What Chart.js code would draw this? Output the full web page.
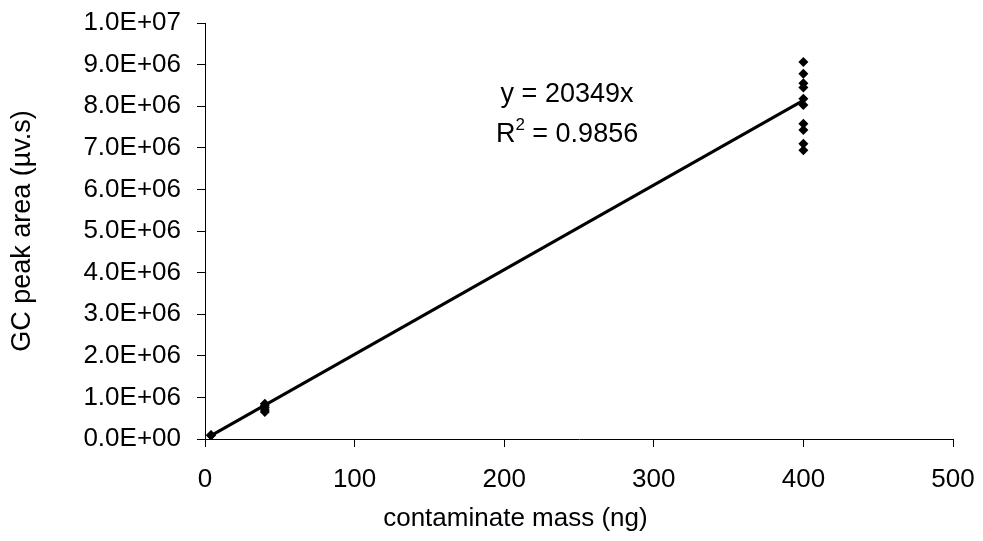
<!DOCTYPE html>
<html><head><meta charset="utf-8">
<script src="https://cdn.jsdelivr.net/npm/chart.js@4/dist/chart.umd.min.js"></script>
<style>html,body{margin:0;padding:0;background:#fff;}</style>
</head><body>
<canvas id="c" width="983" height="541"></canvas>
<script>
// ---- data ----
const sampleMass = [4, 4, 40, 40, 40, 40, 40, 400, 400, 400, 400, 400, 400, 400, 400, 400, 400];
const peakArea   = [95000, 85000, 850000, 800000, 750000, 700000, 650000,
                    9060000, 8780000, 8550000, 8450000, 8180000, 8030000, 7580000, 7430000, 7100000, 6940000];
const trendMass  = [4, 400];
const trendArea  = [81396, 8139600];
const eqText     = 'y = 20349x';
const r2Text     = '0.9856';
const eqAnchor   = [242, 8270000];
const r2Anchor   = [242, 7310000];
const xTitle     = 'contaminate mass (ng)';
const yTitle     = 'GC peak area (\u00b5v.s)';

const FONT = '"Liberation Sans", Arial, Helvetica, sans-serif';

function fmtE(v) {
  if (Math.abs(v) < 1e-9) return '0.0E+00';
  const e = Math.floor(Math.log10(v) + 1e-9);
  const m = v / Math.pow(10, e);
  return m.toFixed(1) + 'E+' + String(e).padStart(2, '0');
}

const annot = {
  id: 'annot',
  afterDatasetsDraw(chart) {
    const {ctx, scales: {x, y}} = chart;
    ctx.save();
    ctx.fillStyle = '#000';
    ctx.textBaseline = 'middle';
    ctx.font = '27px ' + FONT;
    ctx.textAlign = 'center';
    ctx.fillText(eqText, x.getPixelForValue(eqAnchor[0]), y.getPixelForValue(eqAnchor[1]));
    const p1 = 'R', p3 = ' = ' + r2Text;
    const w1 = ctx.measureText(p1).width, w3 = ctx.measureText(p3).width;
    ctx.font = '17px ' + FONT;
    const w2 = ctx.measureText('2').width;
    const total = w1 + w2 + w3;
    const cx = x.getPixelForValue(r2Anchor[0]), cy = y.getPixelForValue(r2Anchor[1]);
    const sx = cx - total / 2;
    ctx.textAlign = 'left';
    ctx.font = '27px ' + FONT;
    ctx.fillText(p1, sx, cy);
    ctx.font = '17px ' + FONT;
    ctx.fillText('2', sx + w1, cy - 10);
    ctx.font = '27px ' + FONT;
    ctx.fillText(p3, sx + w1 + w2, cy);
    // x-axis title (offset left of centre, as in the reference)
    ctx.font = '26px ' + FONT;
    ctx.textAlign = 'center';
    ctx.fillText(xTitle, x.left + (x.right - x.left) * 0.415, 519);
    ctx.restore();
  }
};

new Chart(document.getElementById('c'), {
  type: 'scatter',
  data: {
    datasets: [
      {
        type: 'line',
        data: trendMass.map((m, i) => ({x: m, y: trendArea[i]})),
        borderColor: '#000',
        borderWidth: 3,
        pointRadius: 0,
        fill: false,
        order: 2
      },
      {
        data: sampleMass.map((m, i) => ({x: m, y: peakArea[i]})),
        pointStyle: 'rectRot',
        pointRadius: 5,
        backgroundColor: '#000',
        borderColor: '#000',
        borderWidth: 0,
        order: 1
      }
    ]
  },
  options: {
    responsive: false,
    animation: false,
    devicePixelRatio: 1,
    layout: {padding: {top: 23, right: 30, left: 0, bottom: 0}},
    plugins: {legend: {display: false}, tooltip: {enabled: false}},
    scales: {
      x: {
        type: 'linear', min: 0, max: 500,
        ticks: {stepSize: 100, color: '#000', font: {size: 26, family: FONT}, padding: 17, maxRotation: 0},
        grid: {drawOnChartArea: false, drawTicks: true, tickLength: 8, color: '#000', lineWidth: 1},
        border: {color: '#000', width: 1},
        title: {display: false},
        afterFit(s) { s.height = 102; s.paddingLeft = 0; s.paddingRight = 0; }
      },
      y: {
        type: 'linear', min: 0, max: 10000000,
        ticks: {stepSize: 1000000, color: '#000', font: {size: 26, family: FONT}, padding: 16, callback: v => fmtE(v)},
        grid: {drawOnChartArea: false, drawTicks: true, tickLength: 8, color: '#000', lineWidth: 1},
        border: {color: '#000', width: 1},
        title: {display: true, text: yTitle, color: '#000', font: {size: 27, family: FONT}, padding: {top: 6, bottom: 4}},
        afterFit(s) { s.width = 205; s.paddingTop = 0; s.paddingBottom = 0; }
      }
    }
  },
  plugins: [annot]
});
</script>
</body></html>
